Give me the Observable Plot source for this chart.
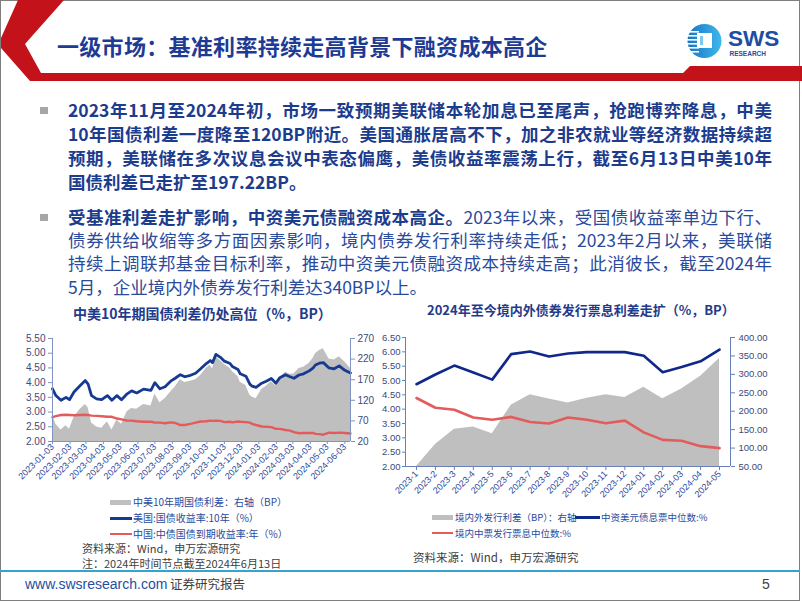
<!DOCTYPE html>
<html><head><meta charset="utf-8">
<script src="https://cdn.jsdelivr.net/npm/d3@7"></script>
<script src="https://cdn.jsdelivr.net/npm/@observablehq/plot@0.6"></script>
<style>
html,body{margin:0;padding:0;background:#fff;}
body{width:802px;height:602px;position:relative;overflow:hidden;font-family:"Noto Sans CJK SC","Noto Sans",sans-serif;}
.abs{position:absolute;}
.nw{white-space:nowrap;}
.ln{position:absolute;left:68px;width:704px;height:24px;line-height:24px;font-size:17.5px;color:#1c3c8e;text-align:justify;text-align-last:justify;}
.ln.last{text-align-last:left;}
.b{font-weight:bold;}
.p2{color:#2a4a9c;}
.bul{position:absolute;left:40px;width:8px;height:7px;background:#a6a6a6;}
.leg{position:absolute;white-space:nowrap;color:#2a4a9c;line-height:12px;}
.src{position:absolute;white-space:nowrap;color:#404040;font-size:11.5px;line-height:12px;}
</style></head><body>

<div class="abs" style="left:0;top:0;width:800px;height:601px;border:1px solid #7f7f7f;box-sizing:border-box;"></div>

<svg class="abs" style="left:0;top:0" width="802" height="90">
  <polygon points="18,0 64,0 25,44 41,73 683,73 690,66 802,66 802,81 30,81 1,48 1,38" fill="#c3121a"/>
</svg>
<div class="abs nw b" style="left:57px;top:30px;font-size:22px;line-height:30px;color:#1d3b94;letter-spacing:0.3px;">一级市场：基准利率持续走高背景下融资成本高企</div>

<svg class="abs" style="left:684px;top:22px" width="100" height="42" viewBox="684 22 100 42">
  <defs><linearGradient id="lg" x1="0" x2="1" y1="0" y2="0"><stop offset="0" stop-color="#1574c4"/><stop offset="1" stop-color="#40b8ec"/></linearGradient></defs>
  <circle cx="704.5" cy="41" r="17" fill="url(#lg)"/>
  <rect x="686" y="31" width="13" height="1.6" fill="#fff"/>
  <rect x="686" y="35" width="13" height="1.6" fill="#fff"/>
  <rect x="686" y="39" width="13" height="1.6" fill="#fff"/>
  <rect x="686" y="43" width="13" height="1.6" fill="#fff"/>
  <rect x="686" y="47" width="13" height="1.6" fill="#fff"/>
  <rect x="686" y="51" width="13" height="1.6" fill="#fff"/>
  <rect x="697" y="33" width="15" height="15" fill="#fff"/>
  <rect x="700" y="36" width="3" height="9" fill="#7cc8ef"/>
  <text x="728" y="46" font-family="Liberation Sans, Arial" font-weight="bold" font-size="22.5" fill="#1d4ea2">SWS</text>
  <text x="729.5" y="56" font-family="Liberation Sans, Arial" font-weight="bold" font-size="6.5" fill="#1d4ea2">RESEARCH</text>
</svg>

<div class="bul" style="top:107px"></div>
<div class="ln b" style="top:98px">2023年11月至2024年初，市场一致预期美联储本轮加息已至尾声，抢跑博弈降息，中美</div>
<div class="ln b" style="top:122px">10年国债利差一度降至120BP附近。美国通胀居高不下，加之非农就业等经济数据持续超</div>
<div class="ln b" style="top:146px">预期，美联储在多次议息会议中表态偏鹰，美债收益率震荡上行，截至6月13日中美10年</div>
<div class="ln b last" style="top:170px">国债利差已走扩至197.22BP。</div>

<div class="bul" style="top:214px"></div>
<div class="ln p2" style="top:205px"><span class="b" style="color:#1c3c8e">受基准利差走扩影响，中资美元债融资成本高企。</span>2023年以来，受国债收益率单边下行、</div>
<div class="ln p2" style="top:228px">债券供给收缩等多方面因素影响，境内债券发行利率持续走低；2023年2月以来，美联储</div>
<div class="ln p2" style="top:251px">持续上调联邦基金目标利率，推动中资美元债融资成本持续走高；此消彼长，截至2024年</div>
<div class="ln p2 last" style="top:275px">5月，企业境内外债券发行利差达340BP以上。</div>

<div class="abs nw b" style="left:73px;top:304px;font-size:14px;line-height:18px;color:#1f3b8a;">中美10年期国债利差仍处高位（%，BP）</div>
<div class="abs nw b" style="left:427px;top:301px;font-size:13px;line-height:18px;color:#1f3b8a;">2024年至今境内外债券发行票息利差走扩（%，BP）</div>

<div id="c1" class="abs" style="left:0;top:325px;"></div>
<div id="c2" class="abs" style="left:370px;top:322px;"></div>

<!-- left legend -->
<div class="abs" style="left:110px;top:500px;width:21px;height:5px;background:#bfbfbf"></div>
<div class="leg" style="left:133px;top:496px;font-size:10px">中美10年期国债利差：右轴（BP）</div>
<div class="abs" style="left:110px;top:517px;width:22px;height:2.5px;background:#163a92"></div>
<div class="leg" style="left:133px;top:512px;font-size:10px">美国:国债收益率:10年（%）</div>
<div class="abs" style="left:110px;top:533px;width:22px;height:2px;background:#e45b5b"></div>
<div class="leg" style="left:133px;top:528px;font-size:10px">中国:中债国债到期收益率:年（%）</div>
<div class="src" style="left:82px;top:542px;font-size:11px">资料来源：Wind，申万宏源研究</div>
<div class="src" style="left:82px;top:557px;font-size:11px">注：2024年时间节点截至2024年6月13日</div>

<!-- right legend -->
<div class="abs" style="left:432px;top:515px;width:21px;height:5px;background:#bfbfbf"></div>
<div class="leg" style="left:455px;top:511px;font-size:9.5px">境内外发行利差（BP）：右轴</div>
<div class="abs" style="left:575px;top:516px;width:25px;height:2.5px;background:#10288a"></div>
<div class="leg" style="left:601px;top:511px;font-size:9.5px">中资美元债息票中位数:%</div>
<div class="abs" style="left:432px;top:532px;width:21px;height:2px;background:#e45b5b"></div>
<div class="leg" style="left:455px;top:527px;font-size:9.5px">境内中票发行票息中位数:%</div>
<div class="src" style="left:413px;top:551px">资料来源：Wind，申万宏源研究</div>

<div class="abs" style="left:0;top:570px;width:800px;height:2px;background:#33a3d2"></div>
<div class="abs nw" style="left:25px;top:576px;font-family:'Liberation Sans',Arial;font-size:14px;line-height:16px;color:#1f4e9f">www.swsresearch.com</div>
<div class="abs nw" style="left:170px;top:576px;font-size:12.5px;line-height:16px;color:#404040">证券研究报告</div>
<div class="abs nw" style="left:762px;top:576px;font-family:'Liberation Sans',Arial;font-size:14px;line-height:16px;color:#404040">5</div>

<script>
// ---------- Left chart data (US vs China 10Y) ----------
const dates = ["2023-01-03","2023-01-09","2023-01-18","2023-01-27","2023-02-02","2023-02-10","2023-02-21","2023-03-02","2023-03-07","2023-03-13","2023-03-22","2023-03-31","2023-04-10","2023-04-18","2023-04-27","2023-05-05","2023-05-15","2023-05-23","2023-06-01","2023-06-13","2023-06-26","2023-07-03","2023-07-12","2023-07-21","2023-07-31","2023-08-08","2023-08-17","2023-08-25","2023-09-04","2023-09-13","2023-09-22","2023-10-02","2023-10-09","2023-10-13","2023-10-19","2023-10-27","2023-11-03","2023-11-13","2023-11-17","2023-11-27","2023-12-01","2023-12-11","2023-12-18","2023-12-22","2023-12-29","2024-01-08","2024-01-16","2024-01-25","2024-02-02","2024-02-09","2024-02-19","2024-02-27","2024-03-05","2024-03-14","2024-03-22","2024-04-01","2024-04-08","2024-04-12","2024-04-19","2024-04-26","2024-05-06","2024-05-15","2024-05-24","2024-06-03","2024-06-13"];
const usYield = [3.79,3.56,3.40,3.50,3.42,3.68,3.90,4.07,3.95,3.56,3.45,3.42,3.56,3.40,3.56,3.42,3.62,3.72,3.65,3.78,3.74,4.00,3.79,3.86,4.05,4.15,4.27,4.20,4.25,4.32,4.47,4.65,4.75,4.68,4.96,4.86,4.73,4.65,4.55,4.45,4.30,4.22,3.95,3.88,3.84,3.98,4.05,4.14,3.98,4.17,4.27,4.20,4.15,4.26,4.30,4.40,4.50,4.60,4.66,4.68,4.50,4.47,4.57,4.42,4.33];
const cnYield = [2.83,2.86,2.90,2.91,2.90,2.89,2.90,2.91,2.90,2.88,2.87,2.86,2.84,2.84,2.78,2.75,2.71,2.71,2.69,2.67,2.67,2.64,2.64,2.62,2.65,2.63,2.56,2.56,2.60,2.64,2.68,2.69,2.71,2.70,2.71,2.70,2.66,2.67,2.65,2.68,2.67,2.66,2.64,2.60,2.56,2.51,2.50,2.49,2.43,2.43,2.39,2.37,2.32,2.28,2.29,2.29,2.29,2.26,2.25,2.23,2.30,2.29,2.30,2.29,2.27];
const spreadBP = [85,62,48,58,50,78,98,110,102,65,55,52,68,48,72,62,92,100,98,110,106,135,114,124,140,152,170,163,166,170,180,198,205,196,226,216,207,198,190,178,164,156,132,128,124,146,154,165,154,174,188,183,184,197,200,210,222,233,241,245,220,218,226,213,197];
const xTicks1 = ["2023-01-03","2023-02-03","2023-03-03","2023-04-03","2023-05-03","2023-06-03","2023-07-03","2023-08-03","2023-09-03","2023-10-03","2023-11-03","2023-12-03","2024-01-03","2024-02-03","2024-03-03","2024-04-03","2024-05-03","2024-06-03"];
const leftTicks1 = [2.0,2.5,3.0,3.5,4.0,4.5,5.0,5.5];
const rightTicks1 = [20,70,120,170,220,270];

// ---------- Right chart data ----------
const months = ["2023-1","2023-2","2023-3","2023-4","2023-5","2023-6","2023-7","2023-8","2023-9","2023-10","2023-11","2023-12","2024-01","2024-02","2024-03","2024-04","2024-05"];
const usdCoupon = [4.87,5.21,5.52,5.28,5.03,5.92,6.01,5.84,5.94,5.99,5.99,5.99,5.86,5.29,5.47,5.67,6.08];
const mtnCoupon = [4.39,4.05,3.98,3.71,3.63,3.73,3.55,3.50,3.71,3.63,3.51,3.60,3.19,2.93,2.90,2.71,2.64];
const issueSpread = [50,110,151,157,139,216,245,233,222,235,245,237,265,234,260,295,343];
const leftTicks2 = [2.0,2.5,3.0,3.5,4.0,4.5,5.0,5.5,6.0,6.5];
const rightTicks2 = [50,100,150,200,250,300,350,400];

const styleBase = {background: "transparent", fontFamily: "'Liberation Sans', Arial, sans-serif", fontSize: "10px", overflow: "visible"};

// left chart: right axis 20..270 maps onto left 2..5.5
const toL1 = r => 2 + (r - 20) * 3.5 / 250;
const fromL1 = v => 20 + (v - 2) * 250 / 3.5;
const rows1 = dates.map((d, i) => ({date: new Date(d), us: usYield[i], cn: cnYield[i], spread: spreadBP[i]}));
const xDom1 = [new Date(dates[0]), new Date(dates[dates.length - 1])];
const ax1 = "#8193c2", lab1 = "#3b4a7a", xlab1 = "#2b4aa0";

const chart1 = Plot.plot({
  width: 400, height: 161,
  marginLeft: 52, marginRight: 50, marginTop: 13, marginBottom: 45,
  style: styleBase,
  x: {type: "utc", domain: xDom1, axis: null},
  y: {domain: [2, 5.5], axis: null},
  marks: [
    Plot.areaY(rows1, {x: "date", y1: 2, y2: d => toL1(d.spread), fill: "#bfbfbf"}),
    Plot.lineY(rows1, {x: "date", y: "cn", stroke: "#e45b5b", strokeWidth: 2.4}),
    Plot.lineY(rows1, {x: "date", y: "us", stroke: "#163a92", strokeWidth: 2.8}),
    Plot.ruleY([2], {stroke: ax1}),
    Plot.ruleX(xDom1, {y1: 2, y2: 5.5, stroke: ax1}),
    Plot.axisY({anchor: "left", ticks: leftTicks1, tickFormat: d3.format(".2f"), tickSize: 4, tickPadding: 3, stroke: ax1, fill: lab1, fontSize: 10, label: null}),
    Plot.axisY({anchor: "right", ticks: rightTicks1.map(toL1), tickFormat: v => String(Math.round(fromL1(v))), tickSize: 4, tickPadding: 3, stroke: ax1, fill: lab1, fontSize: 10, label: null}),
    Plot.axisX({ticks: xTicks1.map(s => new Date(s)), tickFormat: d3.utcFormat("%Y-%m-%d"), tickRotate: -45, tickSize: 3, tickPadding: 1, stroke: ax1, fill: xlab1, fontSize: 9, label: null})
  ]
});
document.getElementById("c1").appendChild(chart1);

// right chart: right axis 50..400 maps onto left 2..6.5
const toL2 = r => 2 + (r - 50) * 4.5 / 350;
const fromL2 = v => 50 + (v - 2) * 350 / 4.5;
const rows2 = months.map((m, i) => ({i, usd: usdCoupon[i], mtn: mtnCoupon[i], sp: issueSpread[i]}));
const pad = 0.58;
const xDom2 = [-pad, months.length - 1 + pad];
const ax2 = "#6a80bb", lab2 = "#3b4a7a", xlab2 = "#2b4aa0";

const chart2 = Plot.plot({
  width: 430, height: 189,
  marginLeft: 35, marginRight: 70, marginTop: 15, marginBottom: 45,
  style: styleBase,
  x: {domain: xDom2, axis: null},
  y: {domain: [2, 6.5], axis: null},
  marks: [
    Plot.areaY(rows2, {x: "i", y1: 2, y2: d => toL2(d.sp), fill: "#bfbfbf"}),
    Plot.lineY(rows2, {x: "i", y: "mtn", stroke: "#e45b5b", strokeWidth: 2.6}),
    Plot.lineY(rows2, {x: "i", y: "usd", stroke: "#10288a", strokeWidth: 2.6}),
    Plot.ruleY([2], {stroke: ax2}),
    Plot.ruleX(xDom2, {y1: 2, y2: 6.5, stroke: ax2}),
    Plot.axisY({anchor: "left", ticks: leftTicks2, tickFormat: d3.format(".2f"), tickSize: 3, tickPadding: 2, stroke: ax2, fill: lab2, fontSize: 9.5, label: null}),
    Plot.axisY({anchor: "right", ticks: rightTicks2.map(toL2), tickFormat: v => fromL2(v).toFixed(2), tickSize: 4, tickPadding: 4, stroke: ax2, fill: lab2, fontSize: 9.5, label: null}),
    Plot.axisX({ticks: months.map((m, i) => i), tickFormat: i => months[i], tickRotate: -45, tickSize: 4, tickPadding: 2, stroke: ax2, fill: xlab2, fontSize: 9, label: null})
  ]
});
document.getElementById("c2").appendChild(chart2);
</script>
</body></html>
